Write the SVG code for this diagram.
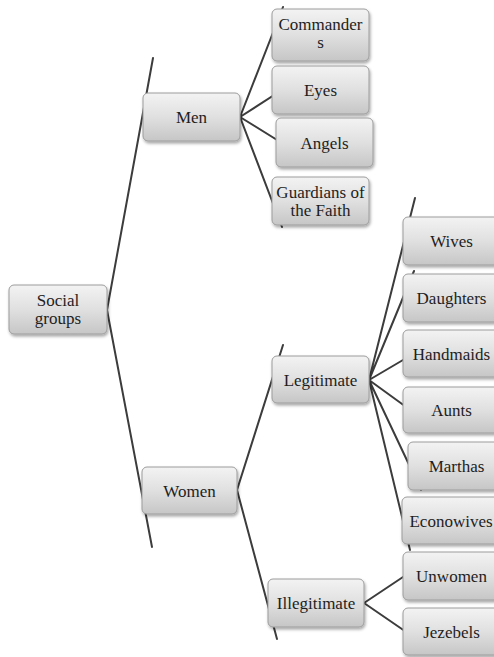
<svg xmlns="http://www.w3.org/2000/svg" width="494" height="657" viewBox="0 0 494 657">
<defs>
<linearGradient id="g" x1="0" y1="0" x2="0" y2="1">
<stop offset="0" stop-color="#f3f3f3"/>
<stop offset="0.5" stop-color="#e0e0e0"/>
<stop offset="1" stop-color="#c6c6c6"/>
</linearGradient>
<filter id="sh" x="-10%" y="-10%" width="130%" height="140%">
<feDropShadow dx="1" dy="2" stdDeviation="1.5" flood-color="#000" flood-opacity="0.35"/>
</filter>
</defs>
<style>
.box{fill:url(#g);stroke:#9c9c9c;stroke-width:1;filter:url(#sh)}
.t{font-family:'Liberation Serif','Times New Roman',serif;font-size:17px;fill:#1e1e1e;text-anchor:middle}
.c{stroke:#3c3c3c;stroke-width:2;fill:none;stroke-linecap:round}
</style>
<rect width="494" height="657" fill="#fff"/>
<g id="connectors">
<path class="c" d="M107,310 L153,58 M107,310 L152,547"/>
<path class="c" d="M240,117 L283,7 M240,117 L285,88 M240,117 L290,148 M240,117 L282,227"/>
<path class="c" d="M237,490 L283,345 M237,490 L277,639"/>
<path class="c" d="M369,380 L415,198 M369,380 L414,271 M369,380 L420,350 M369,380 L420,417 M369,380 L421,490 M369,380 L410,550"/>
<path class="c" d="M364,603 L415,569 M364,603 L415,638"/>
</g>
<g id="social-groups"><rect class="box" x="9" y="285" width="98" height="49" rx="5"/><text class="t" x="58" y="306">Social</text><text class="t" x="58" y="324">groups</text></g>
<g id="men"><rect class="box" x="143" y="93" width="97" height="48" rx="5"/><text class="t" x="191.5" y="123">Men</text></g>
<g id="commanders"><rect class="box" x="272" y="9" width="97" height="52" rx="5"/><text class="t" x="320.5" y="30">Commander</text><text class="t" x="320.5" y="48">s</text></g>
<g id="eyes"><rect class="box" x="272" y="66" width="97" height="48" rx="5"/><text class="t" x="320.5" y="96">Eyes</text></g>
<g id="angels"><rect class="box" x="276" y="118" width="97" height="49" rx="5"/><text class="t" x="324.5" y="148.5">Angels</text></g>
<g id="guardians"><rect class="box" x="272" y="177" width="97" height="48" rx="5"/><text class="t" x="320.5" y="198">Guardians of</text><text class="t" x="320.5" y="216">the Faith</text></g>
<g id="women"><rect class="box" x="142" y="467" width="95" height="47" rx="5"/><text class="t" x="189.5" y="496.5">Women</text></g>
<g id="legitimate"><rect class="box" x="272" y="356" width="97" height="47" rx="5"/><text class="t" x="320.5" y="385.5">Legitimate</text></g>
<g id="illegitimate"><rect class="box" x="268" y="579" width="96" height="48" rx="5"/><text class="t" x="316" y="609">Illegitimate</text></g>
<g id="wives"><rect class="box" x="403" y="217" width="97" height="48" rx="5"/><text class="t" x="451.5" y="247">Wives</text></g>
<g id="daughters"><rect class="box" x="403" y="274" width="97" height="48" rx="5"/><text class="t" x="451.5" y="304">Daughters</text></g>
<g id="handmaids"><rect class="box" x="403" y="330" width="97" height="47" rx="5"/><text class="t" x="451.5" y="359.5">Handmaids</text></g>
<g id="aunts"><rect class="box" x="403" y="387" width="97" height="46" rx="5"/><text class="t" x="451.5" y="416">Aunts</text></g>
<g id="marthas"><rect class="box" x="408" y="442" width="97" height="48" rx="5"/><text class="t" x="456.5" y="472">Marthas</text></g>
<g id="econowives"><rect class="box" x="402" y="497" width="97" height="47" rx="5"/><text class="t" x="451" y="526.5">Econowives</text></g>
<g id="unwomen"><rect class="box" x="403" y="552" width="97" height="48" rx="5"/><text class="t" x="451.5" y="582">Unwomen</text></g>
<g id="jezebels"><rect class="box" x="403" y="608" width="97" height="47" rx="5"/><text class="t" x="451.5" y="637.5">Jezebels</text></g>
</svg>
